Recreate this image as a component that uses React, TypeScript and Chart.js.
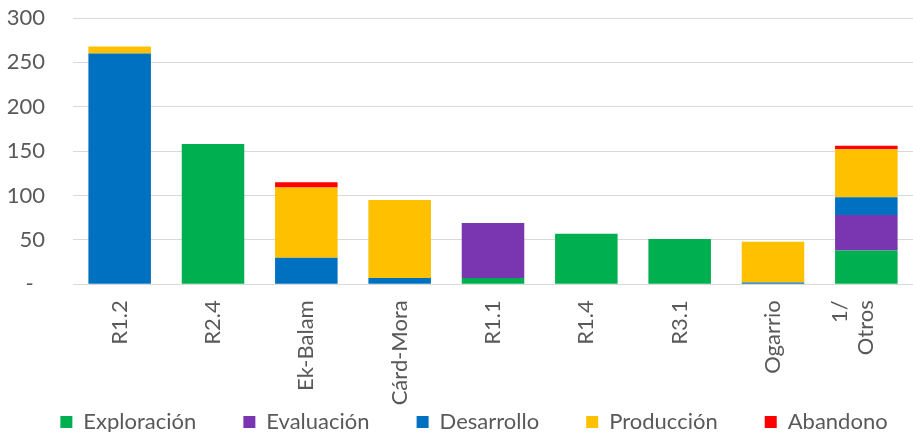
import React, { useEffect, useRef } from "react";
import { Chart, registerables } from "chart.js";

Chart.register(...registerables);

const categories = ["R1.2", "R2.4", "Ek-Balam", "Cárd-Mora", "R1.1", "R1.4", "R3.1", "Ogarrio", "Otros"];
const categoryNotes = ["", "", "", "", "", "", "", "", "1/"];

const exploracion = [0, 158, 0, 0, 7, 57, 51, 0, 38];
const evaluacion = [0, 0, 0, 0, 62, 0, 0, 0, 40];
const desarrollo = [260, 0, 30, 7, 0, 0, 0, 2, 20];
const produccion = [8, 0, 79, 88, 0, 0, 0, 46, 54];
const abandono = [0, 0, 6, 0, 0, 0, 0, 0, 4];

const seriesNames = ["Exploración", "Evaluación", "Desarrollo", "Producción", "Abandono"];
const seriesColors = ["#00B050", "#7A36B0", "#0070C0", "#FFC000", "#FF0000"];

const yTicks = [0, 50, 100, 150, 200, 250, 300];

const FONT = "Lato, 'Open Sans', sans-serif";
const TEXT = "#595959";
const GAP = "\u00A0".repeat(8);

export default function App() {
  const ref = useRef<HTMLCanvasElement | null>(null);

  useEffect(() => {
    if (!ref.current) return;
    const values = [exploracion, evaluacion, desarrollo, produccion, abandono];
    const chart = new Chart(ref.current, {
      type: "bar",
      data: {
        labels: categories.map((c, i) => [categoryNotes[i], c]),
        datasets: values.map((v, i) => ({
          label: seriesNames[i],
          data: v,
          backgroundColor: seriesColors[i],
          borderWidth: 0,
          categoryPercentage: 1,
          barPercentage: 0.67,
        })),
      },
      options: {
        animation: false,
        responsive: true,
        maintainAspectRatio: false,
        layout: { padding: { top: 18, left: 0, right: -35, bottom: -11 } },
        plugins: {
          tooltip: { enabled: false },
          legend: {
            position: "bottom",
            labels: {
              boxWidth: 12,
              boxHeight: 12,
              padding: 2,
              color: TEXT,
              font: { family: FONT, size: 22 },
              generateLabels: (c: any) => {
                const items = Chart.defaults.plugins.legend.labels.generateLabels(c);
                return items.map((it: any, i: number) => ({
                  ...it,
                  text: i < items.length - 1 ? it.text + GAP : it.text,
                }));
              },
            },
          },
        },
        scales: {
          x: {
            stacked: true,
            grid: { display: false, drawTicks: false },
            border: { display: false },
            ticks: {
              autoSkip: false,
              maxRotation: 90,
              minRotation: 90,
              padding: 16,
              labelOffset: -26.4,
              color: TEXT,
              font: { family: FONT, size: 22 },
            },
            afterFit: (s: any) => {
              s.height = 409 - 284.3;
              s.paddingLeft = 0;
              s.paddingRight = 0;
            },
          },
          y: {
            stacked: true,
            min: 0,
            max: 300,
            afterBuildTicks: (s: any) => {
              s.ticks = yTicks.map((v) => ({ value: v }));
            },
            grid: { color: "#D9D9D9", lineWidth: 1, drawTicks: false },
            border: { display: false },
            ticks: {
              padding: 28,
              color: TEXT,
              font: { family: FONT, size: 22 },
              callback: (v: any) => (Number(v) === 0 ? "-  " : String(v)),
            },
            afterFit: (s: any) => {
              s.width = 73;
              s.paddingTop = 0;
              s.paddingBottom = 0;
            },
          },
          spacer: {
            type: "linear",
            position: "right",
            display: true,
            grid: { display: false, drawTicks: false },
            border: { display: false },
            ticks: { display: false },
            afterFit: (s: any) => {
              s.width = 35;
              s.paddingTop = 0;
              s.paddingBottom = 0;
            },
          },
        },
      },
    } as any);
    return () => chart.destroy();
  }, []);

  return (
    <div style={{ position: "absolute", left: 0, top: 0, width: 913, height: 432, background: "#fff" }}>
      <canvas ref={ref} />
    </div>
  );
}
